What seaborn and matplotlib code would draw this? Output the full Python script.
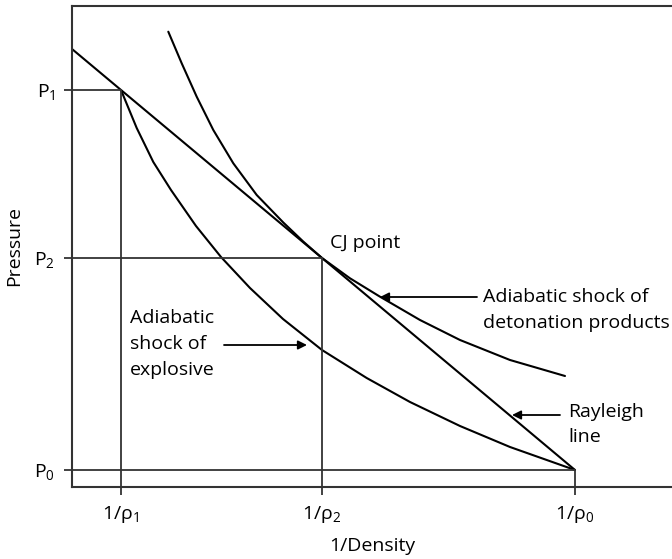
import matplotlib
matplotlib.use("Agg")
import matplotlib.pyplot as plt
import seaborn as sns
import pandas as pd

# ---- data (schematic units) ----
x_tick_vals = [0.49, 2.50, 5.03]
x_tick_labels = ["1/ρ$_1$", "1/ρ$_2$", "1/ρ$_0$"]
y_tick_vals = [0.17, 2.29, 3.97]
y_tick_labels = ["P$_0$", "P$_2$", "P$_1$"]

rayleigh_x = [0.0, 0.49, 2.50, 5.03]
rayleigh_y = [4.38, 3.97, 2.29, 0.17]

explosive_x = [0.49, 0.647, 0.813, 0.99, 1.24, 1.49, 1.78, 2.11, 2.50, 2.947, 3.38, 3.88, 4.38, 5.03]
explosive_y = [3.97, 3.59, 3.25, 2.97, 2.61, 2.30, 1.99, 1.68, 1.37, 1.09, 0.85, 0.61, 0.40, 0.17]

products_x = [0.963, 1.097, 1.247, 1.413, 1.613, 1.847, 2.113, 2.313, 2.50, 2.78, 3.08, 3.48, 3.88, 4.38, 4.93]
products_y = [4.553, 4.237, 3.903, 3.57, 3.237, 2.92, 2.645, 2.454, 2.29, 2.087, 1.903, 1.67, 1.47, 1.27, 1.11]

sns.set_theme(style="white")
plt.rcParams["font.family"] = ["Open Sans", "DejaVu Sans"]
plt.rcParams["mathtext.fontset"] = "custom"
plt.rcParams["mathtext.rm"] = "Open Sans"
plt.rcParams["mathtext.it"] = "Open Sans:italic"
plt.rcParams["text.color"] = "black"
plt.rcParams["axes.labelcolor"] = "black"

fig = plt.figure(figsize=(6.72, 5.59), dpi=100)
ax = fig.add_axes([72 / 672, 72 / 559, 600 / 672, 481 / 559])

FS = 14
lc = "black"
gc = "#333333"

df_r = pd.DataFrame({"x": rayleigh_x, "y": rayleigh_y})
df_e = pd.DataFrame({"x": explosive_x, "y": explosive_y})
df_p = pd.DataFrame({"x": products_x, "y": products_y})
for d in (df_r, df_e, df_p):
    sns.lineplot(data=d, x="x", y="y", sort=False, ax=ax, color=lc, lw=1.5)
for ln in ax.lines:
    ln.set_solid_joinstyle("round")

# guide lines
for xv, yv in zip([x_tick_vals[0], x_tick_vals[1], x_tick_vals[2]],
                  [y_tick_vals[2], y_tick_vals[1], y_tick_vals[0]]):
    ax.plot([0, xv], [yv, yv], color=gc, lw=1.3)
    ax.plot([xv, xv], [0, yv], color=gc, lw=1.3)

ax.set_xlim(0, 6.0)
ax.set_ylim(0, 4.81)
ax.set_xticks(x_tick_vals)
ax.set_xticklabels(x_tick_labels, fontsize=FS)
ax.set_yticks(y_tick_vals)
ax.set_yticklabels(y_tick_labels, fontsize=FS)
ax.tick_params(axis="both", direction="out", length=6, width=1.3, color=gc,
               labelcolor="black")
ax.tick_params(axis="x", bottom=True, pad=6)
ax.tick_params(axis="y", left=True, pad=6)
ax.set_xlabel("1/Density", fontsize=FS, labelpad=9)
ax.set_ylabel("Pressure", fontsize=FS, labelpad=8)

for s in ("left", "top", "bottom"):
    ax.spines[s].set_visible(True)
    ax.spines[s].set_color(gc)
    ax.spines[s].set_linewidth(1.5)
ax.spines["right"].set_visible(False)
ax.grid(False)

# annotations
ax.text(2.58, 2.44, "CJ point", fontsize=FS, va="center", ha="left")
arrow = dict(arrowstyle="-|>", color=lc, lw=1.3, mutation_scale=13, shrinkA=0, shrinkB=0)
ax.text(4.11, 1.77, "Adiabatic shock of\ndetonation products", fontsize=FS,
        va="center", ha="left", linespacing=1.5, clip_on=False)
ax.annotate("", xy=(3.08, 1.90), xytext=(4.05, 1.90), arrowprops=arrow)
ax.text(4.96, 0.625, "Rayleigh\nline", fontsize=FS, va="center", ha="left", linespacing=1.5)
ax.annotate("", xy=(4.40, 0.72), xytext=(4.88, 0.72), arrowprops=arrow)
ax.text(0.58, 1.43, "Adiabatic\nshock of\nexplosive", fontsize=FS, va="center", ha="left",
        linespacing=1.55)
ax.annotate("", xy=(2.35, 1.42), xytext=(1.52, 1.42), arrowprops=arrow)

fig.savefig("out.png", dpi=100)
